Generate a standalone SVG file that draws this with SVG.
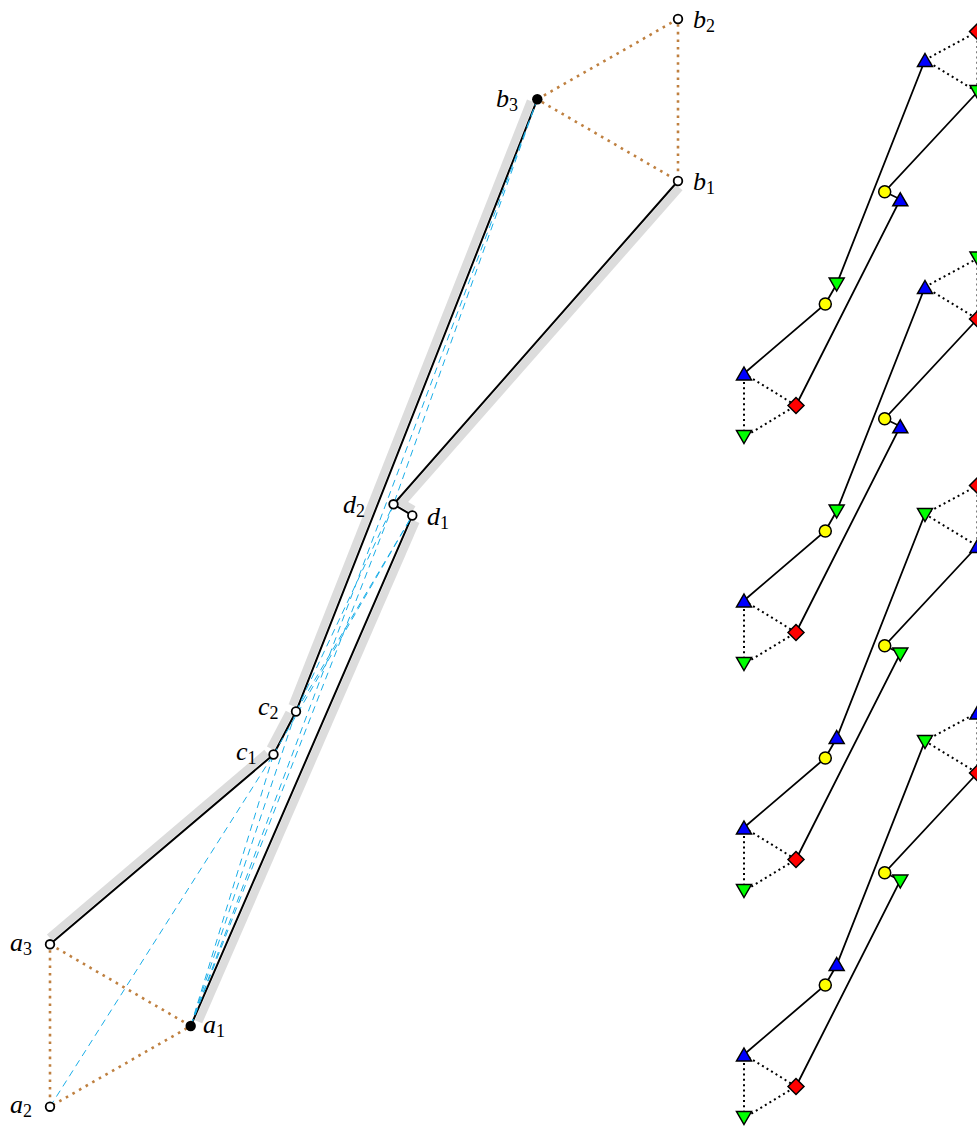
<svg xmlns="http://www.w3.org/2000/svg" xmlns:xlink="http://www.w3.org/1999/xlink" width="977" height="1129" viewBox="0 0 977 1129">
<style>
.gray{stroke:#dcdcdc;stroke-width:8;fill:none}
.blk{stroke:#000;stroke-width:2;fill:none;stroke-linecap:round}
.brown{stroke:#bf8040;stroke-width:2.6;stroke-dasharray:2.6 5;fill:none}
.cyan{stroke:#1aaee8;stroke-width:1;stroke-dasharray:7 5;fill:none}
.open{fill:#fff;stroke:#000;stroke-width:1.8}
.fill{fill:#000}
.lbl{font-family:"Liberation Serif",serif;font-style:italic;font-size:26px;fill:#000}
.sub{font-style:normal;font-size:18px}
.ml{stroke:#000;stroke-width:1.8;fill:none}
.md{stroke:#000;stroke-width:2;stroke-dasharray:2 3.3;fill:none}
.mk{stroke:#000;stroke-width:1.5}
.blue{fill:#0000ff}.green{fill:#00ff00}.red{fill:#ff0000}.yellow{fill:#ffff00}
</style>
<defs>
<path id="up" d="M0,-6.5 L7.5,6.5 L-7.5,6.5 Z"/>
<path id="down" d="M0,6.5 L7.5,-6.5 L-7.5,-6.5 Z"/>
<path id="dia" d="M0,-8 L8,0 L0,8 L-8,0 Z"/>
<circle id="circ" r="6"/>
</defs>
<rect width="977" height="1129" fill="#fff"/>
<g id="connectors">
<g id="gray-bands">
<line class="gray" x1="530.7" y1="101.0" x2="292.35" y2="705.76"/>
<line class="gray" x1="289.28" y1="712.49" x2="270.48" y2="748.41"/>
<line class="gray" x1="266.89" y1="752.9" x2="49.49" y2="937.52"/>
<line class="gray" x1="679.49" y1="187.63" x2="400.27" y2="504.93"/>
<line class="gray" x1="398.04" y1="500.59" x2="413.4" y2="509.75"/>
<line class="gray" x1="415.76" y1="521.36" x2="198.54" y2="1021.77"/>
</g>
<g id="black-chains">
<polyline class="blk" points="537.3,99.3 296,711.5 273.5,754.5 50,944.3"/>
<polyline class="blk" points="678,181 393.5,504.3 412.3,515.5 190.7,1026"/>
</g>
<g id="dashed">
<line class="cyan" x1="50" y1="1106.7" x2="273.5" y2="754.5"/>
<line class="cyan" x1="190.7" y1="1026" x2="273.5" y2="754.5"/>
<line class="cyan" x1="190.7" y1="1026" x2="296" y2="711.5"/>
<line class="cyan" x1="190.7" y1="1026" x2="393.5" y2="504.3"/>
<line class="cyan" x1="190.7" y1="1026" x2="537.3" y2="99.3"/>
<line class="cyan" x1="273.5" y1="754.5" x2="412.3" y2="515.5"/>
<line class="cyan" x1="296" y1="711.5" x2="412.3" y2="515.5"/>
<line class="cyan" x1="296" y1="711.5" x2="393.5" y2="504.3"/>
<line class="cyan" x1="537.3" y1="99.3" x2="393.5" y2="504.3"/>
</g>
<g id="triangles">
<polygon class="brown" points="50,944.3 190.7,1026 50,1106.7"/>
<polygon class="brown" points="537.3,99.3 678,19 678,181"/>
</g>
<g id="mini-lines">
<g id="mini-lines-1" transform="translate(0,0)">
<polyline class="ml" points="744,373.5 825.3,304 836.7,284 925,60"/>
<polyline class="ml" points="796,405.5 900.3,199.3 884.7,191.7 977.5,92"/>
<polygon class="md" points="744,373.5 796,405.5 744,437"/>
<polygon class="md" points="925,60 977.5,31.5 977.5,92"/>
</g>
<g id="mini-lines-2" transform="translate(0,227)">
<polyline class="ml" points="744,373.5 825.3,304 836.7,284 925,60"/>
<polyline class="ml" points="796,405.5 900.3,199.3 884.7,191.7 977.5,92"/>
<polygon class="md" points="744,373.5 796,405.5 744,437"/>
<polygon class="md" points="925,60 977.5,31.5 977.5,92"/>
</g>
<g id="mini-lines-3" transform="translate(0,454)">
<polyline class="ml" points="744,373.5 825.3,304 836.7,284 925,60"/>
<polyline class="ml" points="796,405.5 900.3,199.3 884.7,191.7 977.5,92"/>
<polygon class="md" points="744,373.5 796,405.5 744,437"/>
<polygon class="md" points="925,60 977.5,31.5 977.5,92"/>
</g>
<g id="mini-lines-4" transform="translate(0,681)">
<polyline class="ml" points="744,373.5 825.3,304 836.7,284 925,60"/>
<polyline class="ml" points="796,405.5 900.3,199.3 884.7,191.7 977.5,92"/>
<polygon class="md" points="744,373.5 796,405.5 744,437"/>
<polygon class="md" points="925,60 977.5,31.5 977.5,92"/>
</g>
</g>
</g>
<g id="node-a1"><circle class="fill" cx="190.7" cy="1026" r="5.2"/><text class="lbl" x="203" y="1033">a<tspan class="sub" dy="3.5">1</tspan></text></g>
<g id="node-a2"><circle class="open" cx="50" cy="1106.7" r="4.3"/><text class="lbl" x="10" y="1113">a<tspan class="sub" dy="3.5">2</tspan></text></g>
<g id="node-a3"><circle class="open" cx="50" cy="944.3" r="4.3"/><text class="lbl" x="10" y="951">a<tspan class="sub" dy="3.5">3</tspan></text></g>
<g id="node-b1"><circle class="open" cx="678" cy="181" r="4.3"/><text class="lbl" x="693" y="190">b<tspan class="sub" dy="3.5">1</tspan></text></g>
<g id="node-b2"><circle class="open" cx="678" cy="19" r="4.3"/><text class="lbl" x="693" y="28">b<tspan class="sub" dy="3.5">2</tspan></text></g>
<g id="node-b3"><circle class="fill" cx="537.3" cy="99.3" r="5.2"/><text class="lbl" x="496" y="107">b<tspan class="sub" dy="3.5">3</tspan></text></g>
<g id="node-c1"><circle class="open" cx="273.5" cy="754.5" r="4.3"/><text class="lbl" x="236" y="760">c<tspan class="sub" dy="3.5">1</tspan></text></g>
<g id="node-c2"><circle class="open" cx="296" cy="711.5" r="4.3"/><text class="lbl" x="258" y="715">c<tspan class="sub" dy="3.5">2</tspan></text></g>
<g id="node-d1"><circle class="open" cx="412.3" cy="515.5" r="4.3"/><text class="lbl" x="427" y="525">d<tspan class="sub" dy="3.5">1</tspan></text></g>
<g id="node-d2"><circle class="open" cx="393.5" cy="504.3" r="4.3"/><text class="lbl" x="343" y="513">d<tspan class="sub" dy="3.5">2</tspan></text></g>
<g id="frame-1">
<use href="#up" class="mk blue" x="744" y="373.5"/><use href="#down" class="mk green" x="744" y="437"/><use href="#dia" class="mk red" x="796" y="405.5"/>
<use href="#circ" class="mk yellow" x="825.3" y="304"/><use href="#down" class="mk green" x="836.7" y="284.5"/>
<use href="#circ" class="mk yellow" x="884.7" y="191.7"/><use href="#up" class="mk blue" x="900.3" y="199.3"/>
<use href="#up" class="mk blue" x="925" y="60"/><use href="#dia" class="mk red" x="977.5" y="31.5"/><use href="#down" class="mk green" x="977.5" y="92"/>
</g>
<g id="frame-2" transform="translate(0,227)">
<use href="#up" class="mk blue" x="744" y="373.5"/><use href="#down" class="mk green" x="744" y="437"/><use href="#dia" class="mk red" x="796" y="405.5"/>
<use href="#circ" class="mk yellow" x="825.3" y="304"/><use href="#down" class="mk green" x="836.7" y="284.5"/>
<use href="#circ" class="mk yellow" x="884.7" y="191.7"/><use href="#up" class="mk blue" x="900.3" y="199.3"/>
<use href="#up" class="mk blue" x="925" y="60"/><use href="#down" class="mk green" x="977.5" y="31.5"/><use href="#dia" class="mk red" x="977.5" y="92"/>
</g>
<g id="frame-3" transform="translate(0,454)">
<use href="#up" class="mk blue" x="744" y="373.5"/><use href="#down" class="mk green" x="744" y="437"/><use href="#dia" class="mk red" x="796" y="405.5"/>
<use href="#circ" class="mk yellow" x="825.3" y="304"/><use href="#up" class="mk blue" x="836.7" y="283"/>
<use href="#circ" class="mk yellow" x="884.7" y="191.7"/><use href="#down" class="mk green" x="900.3" y="200.5"/>
<use href="#down" class="mk green" x="925" y="61"/><use href="#dia" class="mk red" x="977.5" y="31.5"/><use href="#up" class="mk blue" x="977.5" y="92"/>
</g>
<g id="frame-4" transform="translate(0,681)">
<use href="#up" class="mk blue" x="744" y="373.5"/><use href="#down" class="mk green" x="744" y="437"/><use href="#dia" class="mk red" x="796" y="405.5"/>
<use href="#circ" class="mk yellow" x="825.3" y="304"/><use href="#up" class="mk blue" x="836.7" y="283"/>
<use href="#circ" class="mk yellow" x="884.7" y="191.7"/><use href="#down" class="mk green" x="900.3" y="200.5"/>
<use href="#down" class="mk green" x="925" y="61"/><use href="#up" class="mk blue" x="977.5" y="31.5"/><use href="#dia" class="mk red" x="977.5" y="92"/>
</g>
</svg>
